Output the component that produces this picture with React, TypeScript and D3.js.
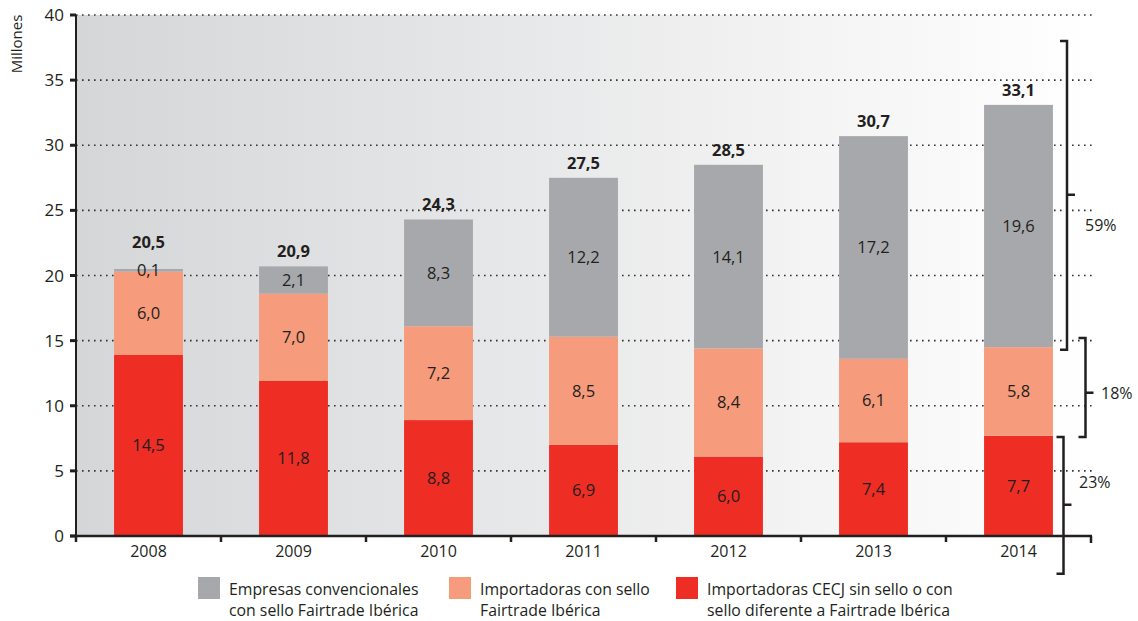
import * as d3 from "d3";

// Comercio justo por canal: millones de euros, 2008-2014 (barras apiladas).
const years = ["2008", "2009", "2010", "2011", "2012", "2013", "2014"];

// bar heights as drawn in the picture (millions)
const rojo = [13.9, 11.9, 8.9, 7.0, 6.1, 7.2, 7.7];
const salmon = [6.4, 6.7, 7.2, 8.3, 8.3, 6.4, 6.8];
const gris = [0.2, 2.1, 8.2, 12.2, 14.1, 17.1, 18.6];

// printed labels
const rojoLbl = ["14,5", "11,8", "8,8", "6,9", "6,0", "7,4", "7,7"];
const salmonLbl = ["6,0", "7,0", "7,2", "8,5", "8,4", "6,1", "5,8"];
const grisLbl = ["0,1", "2,1", "8,3", "12,2", "14,1", "17,2", "19,6"];
const totalLbl = ["20,5", "20,9", "24,3", "27,5", "28,5", "30,7", "33,1"];

const yTicks = [0, 5, 10, 15, 20, 25, 30, 35, 40];

// share brackets on the right: [top, mid, bottom] in millions
const shares = ["59%", "18%", "23%"];
const shareSpan: [number, number, number][] = [
  [38.0, 26.2, 14.3],
  [15.2, 11.0, 7.6],
  [7.6, 2.4, -2.9],
];

const legendLines = [
  ["Empresas convencionales", "con sello Fairtrade Ibérica"],
  ["Importadoras con sello", "Fairtrade Ibérica"],
  ["Importadoras CECJ sin sello o con", "sello diferente a Fairtrade Ibérica"],
];

const COLORS = { rojo: "#ee2d24", salmon: "#f69b7b", gris: "#a7a8ab" };
const INK = "#231f20";
const FONT = "'Open Sans', sans-serif";

const W = 1138;
const H = 621;
const X0 = 76;
const X1 = 1091;

const y = d3.scaleLinear().domain([0, 40]).range([536, 15]);
const x = d3.scaleBand().domain(years).range([X0, X1]).paddingInner(0.525).paddingOuter(0.2625);
const xCell = d3.scaleBand().domain(years).range([X0, X1]);

const rows = years.map((yr, i) => ({ yr, rojo: rojo[i], salmon: salmon[i], gris: gris[i] }));
const keys = ["rojo", "salmon", "gris"] as const;
const stacked = d3.stack<any>().keys(keys as any)(rows);
const labels: Record<string, string[]> = { rojo: rojoLbl, salmon: salmonLbl, gris: grisLbl };

export default function App() {
  const bw = x.bandwidth();
  const legendX = [198, 449, 676];
  return (
    <svg width={W} height={H} style={{ position: "absolute", left: 0, top: 0, background: "#fff" }} fontFamily={FONT}>
      <defs>
        <linearGradient id="bg" x1="0" x2="1" y1="0" y2="0">
          <stop offset="0" stopColor="#d5d6d8" />
          <stop offset="1" stopColor="#ffffff" />
        </linearGradient>
      </defs>
      <rect x={X0} y={y(40)} width={X1 - X0} height={y(0) - y(40)} fill="url(#bg)" />

      {/* dotted grid */}
      {yTicks.filter((t) => t > 0).map((t) => (
        <line key={t} x1={X0} x2={1095} y1={y(t)} y2={y(t)} stroke="#333" strokeWidth={1.6} strokeDasharray="1.6 4.4" />
      ))}

      {/* bars */}
      {stacked.map((s) => (
        <g key={s.key}>
          {s.map((d, i) => (
            <rect
              key={i}
              x={x(years[i])!}
              y={y(d[1])}
              width={bw}
              height={y(d[0]) - y(d[1])}
              fill={COLORS[s.key as keyof typeof COLORS]}
            />
          ))}
        </g>
      ))}
      {stacked.map((s) =>
        s.map((d, i) => (
          <text
            key={s.key + i}
            x={x(years[i])! + bw / 2}
            y={(y(d[0]) + y(d[1])) / 2}
            dy="0.36em"
            textAnchor="middle"
            fontSize={16.5}
            fill={INK}
          >
            {labels[s.key][i]}
          </text>
        ))
      )}
      {/* totals */}
      {stacked[2].map((d, i) => {
        const top = y(d[1]);
        const grayMid = (y(d[0]) + top) / 2;
        return (
          <text key={i} x={x(years[i])! + bw / 2} y={Math.min(top - 9, grayMid - 22)} textAnchor="middle" fontSize={16.5} fontWeight={700} fill={INK}>
            {totalLbl[i]}
          </text>
        );
      })}

      {/* y axis */}
      <line x1={X0} x2={X0} y1={y(40)} y2={y(0) + 5} stroke={INK} strokeWidth={2} />
      {yTicks.map((t) => (
        <g key={t}>
          <line x1={70} x2={X0} y1={y(t)} y2={y(t)} stroke={INK} strokeWidth={3} />
          <text x={64} y={y(t)} dy="0.36em" textAnchor="end" fontSize={17} fill={INK}>
            {t}
          </text>
        </g>
      ))}
      <text transform={`translate(22,${44}) rotate(-90)`} textAnchor="middle" fontSize={15} fill={INK}>
        Millones
      </text>

      {/* x axis */}
      <line x1={70} x2={X1 + 1} y1={y(0)} y2={y(0)} stroke={INK} strokeWidth={2.5} />
      {years.map((yr) => (
        <line key={yr} x1={xCell(yr)!} x2={xCell(yr)!} y1={y(0)} y2={y(0) + 6} stroke={INK} strokeWidth={2.5} />
      ))}
      <line x1={X1} x2={X1} y1={y(0)} y2={y(0) + 7} stroke={INK} strokeWidth={2.5} />
      {years.map((yr) => (
        <text key={yr} x={x(yr)! + bw / 2} y={557} textAnchor="middle" fontSize={16} fill={INK}>
          {yr}
        </text>
      ))}

      {/* share brackets */}
      {shareSpan.map(([a, m, b], i) => {
        const bx = [1067, 1085.5, 1063.5][i];
        const lx = [1085, 1101, 1079][i];
        const ly = [225, 393, 482][i];
        const ya = y(a);
        const ym = y(m);
        const yb = y(b);
        return (
          <g key={i} stroke={INK} strokeWidth={2.5} fill="none">
            <path d={`M${bx - 7},${ya} H${bx} V${yb} H${bx - 7}`} />
            <line x1={bx} x2={bx + 8} y1={ym} y2={ym} />
            <text x={lx} y={ly} dy="0.36em" fontSize={16} fill={INK} stroke="none">
              {shares[i]}
            </text>
          </g>
        );
      })}

      {/* legend */}
      {legendLines.map((lines, i) => (
        <g key={i}>
          <rect x={legendX[i]} y={577} width={22} height={22} fill={[COLORS.gris, COLORS.salmon, COLORS.rojo][i]} />
          {lines.map((t, j) => (
            <text key={j} x={legendX[i] + 31} y={595 + j * 20.5} fontSize={15.8} fill={INK}>
              {t}
            </text>
          ))}
        </g>
      ))}
    </svg>
  );
}
